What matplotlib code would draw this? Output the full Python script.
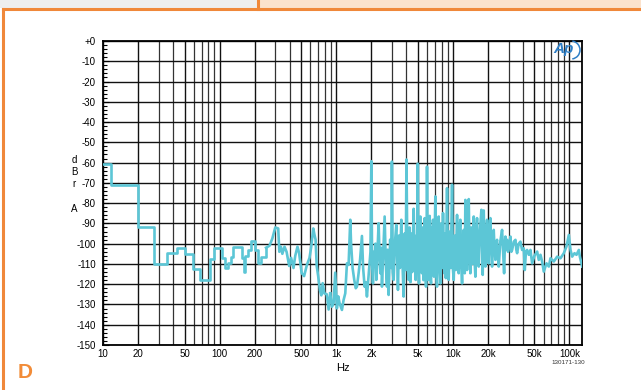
import matplotlib
matplotlib.use("Agg")
import matplotlib.pyplot as plt
from matplotlib.patches import Rectangle, Arc
from matplotlib.ticker import FixedLocator, NullFormatter, MultipleLocator

# ---------------- data ----------------
# low-frequency stepped part (FFT bins)
freq_lo = [10, 11.8, 19.8, 27.4, 35.5, 43.4, 50.5, 59, 68, 82, 89, 105, 112, 118,
           126, 131, 155, 161, 166, 175, 185, 200, 212, 228, 250]
dbr_lo = [-60.5, -71, -92, -110, -104.5, -102, -105, -112.5, -118, -107.5, -102,
          -107, -112, -109.7, -106.7, -101.7, -107, -114, -106, -103, -98.5, -103,
          -109.7, -106.5, -102]

# mid band
freq_mid = [250, 268, 283, 300, 318, 325, 335, 345, 360, 375, 395, 410, 430, 445, 465,
            480, 505, 530, 560, 590, 610, 635, 650, 665, 680, 700, 725, 745, 765, 790,
            830, 860, 888]
dbr_mid = [-102, -101, -97.5, -92, -92.5, -104, -101.5, -105, -101.5, -104, -111, -107,
           -112, -106, -101.5, -104.5, -114.5, -116, -110.5, -107, -101.5, -92.5, -95.5,
           -98, -111, -116, -123, -125.5, -119.5, -124.5, -125, -132.5, -124.5]

# high band (harmonics / noise), 888 Hz .. 1.6 kHz
freq_hi1 = [888, 918, 949, 980, 1013, 1040, 1068, 1119, 1156, 1195, 1235, 1276, 1319,
            1340, 1381, 1427, 1470, 1504, 1555, 1600, 1661, 1700, 1751, 1790, 1833,
            1880, 1920, 1965]
dbr_hi1 = [-124.5, -131.1, -129.4, -114.3, -131.9, -126, -129.4, -132.7, -127.8, -124.5,
           -109.7, -110.5, -88.2, -100, -112, -117.9, -122, -121.2, -114.6, -108, -96.2,
           -112, -121.2, -119, -126.1, -118, -111.3, -104]

# 2 kHz .. 6 kHz
freq_hi2 = [2000, 2030, 2064, 2100, 2133, 2170, 2205, 2250, 2309, 2350, 2386, 2430, 2466,
            2530, 2600, 2660, 2722, 2760, 2813, 2900, 2960, 3000, 3050, 3105, 3180, 3273,
            3330, 3382, 3450, 3520, 3613, 3700, 3784, 3860, 3940, 4000, 4080, 4178, 4250,
            4330, 4400, 4480, 4611, 4700, 4797, 4870, 4940, 5000, 5060, 5124, 5190, 5260,
            5340, 5437, 5520, 5600, 5731, 5800, 5885, 5950]
dbr_hi2 = [-59.3, -110, -119.6, -104, -111.3, -100, -117.9, -106, -89.9, -106, -114.6,
           -102, -121.2, -105, -86.6, -110, -121.2, -103, -125.3, -98, -112, -59.5, -114,
           -117.9, -100, -90.7, -108, -122.8, -96, -112, -88.2, -110, -126.1, -95, -113,
           -58.5, -110, -117.9, -92, -119, -95, -114, -82.8, -108, -117.9, -96, -111,
           -60.5, -112, -119.6, -98, -86.6, -112, -114.6, -92, -118, -87.4, -108, -121.2,
           -100]

# 6 kHz .. 20 kHz
freq_hi3 = [6000, 6080, 6162, 6240, 6327, 6410, 6495, 6600, 6680, 6757, 6820, 6892, 6980,
            7076, 7200, 7313, 7430, 7558, 7680, 7810, 7980, 8100, 8234, 8340, 8454, 8600,
            8700, 8912, 9050, 9211, 9400, 9600, 9838, 10000, 10170, 10400, 10600, 10860,
            11050, 11220, 11400, 11600, 11800, 11990, 12200, 12390, 12520, 12640, 12800,
            13000, 13230, 13450, 13680, 13900, 14130, 14400, 14700, 15100, 15350, 15600,
            15850, 16120, 16400, 16670, 17100, 17560, 17800, 18030, 18200, 18390, 18700,
            19010, 19300, 19650, 19950]
dbr_hi3 = [-62, -110, -117.9, -95, -86.3, -116, -119.6, -92, -112, -88.2, -106, -116.3,
           -98, -76.7, -113, -121.2, -96, -86.6, -110, -119.6, -90, -112, -84.9, -104,
           -114.6, -95, -117, -72.6, -104, -117.9, -94, -112, -70.9, -112, -117.9, -96,
           -113, -85.8, -108, -114.6, -93, -88.2, -110, -119.6, -100, -93.2, -110, -114.6,
           -78.4, -104, -113, -96, -78, -106, -114.6, -92, -110, -86.6, -108, -116.3, -95,
           -87.4, -104, -111.3, -93, -83.3, -100, -115.4, -96, -83.6, -105, -111.3, -96,
           -88.2, -103]

# 20 kHz .. 128 kHz
freq_hi4 = [20300, 20600, 20980, 21300, 21690, 22000, 22410, 22800, 23160, 23500, 23930,
            24300, 24740, 25500, 26420, 27000, 27500, 27900, 28220, 28700, 29170, 29700,
            30150, 31160, 31700, 32200, 33300, 34400, 35000, 35550, 36700, 37960, 39230,
            40550, 41360, 42300, 43300, 44770, 46270, 47800, 50000, 52800, 54500, 56400,
            58300, 60200, 63500, 66500, 68700, 73400, 78400, 83700, 89400, 94200, 98700,
            102000, 105400, 110400, 114800, 120300, 122700, 128500]
dbr_hi4 = [-109.7, -94, -87.4, -100, -111.3, -99, -93.2, -104, -108, -100, -98.1, -106,
           -111.3, -99, -93.2, -104.7, -114.6, -101, -96.5, -103, -98.1, -104, -101.4,
           -96.5, -104, -103.1, -99, -98.1, -103, -104.7, -100, -99, -103.1, -102.3, -113,
           -104, -103.1, -105.5, -103.1, -109.7, -106, -103.9, -108, -105.5, -109, -113.8,
           -109.7, -111.3, -107.2, -108.8, -106.4, -107.2, -104.7, -101.4, -95.7, -103.1,
           -106.4, -104.7, -105.5, -103.1, -106.4, -111.3]

x_ticks = [10, 20, 50, 100, 200, 500, 1000, 2000, 5000, 10000, 20000, 50000, 100000]
x_labels = ["10", "20", "50", "100", "200", "500", "1k", "2k", "5k", "10k", "20k", "50k", "100k"]
y_ticks = list(range(0, -151, -10))
y_labels = ["+0"] + [str(v) for v in y_ticks[1:]]

# ---------------- figure ----------------
plt.rcParams['font.family'] = ['Liberation Sans', 'DejaVu Sans']
W, H = 641, 390
fig = plt.figure(figsize=(W / 100, H / 100), dpi=100)
fig.patch.set_facecolor('white')

orange = '#f0883a'
# page decorations
fig.add_artist(Rectangle((0, 1 - 8 / H), 258 / W, 8 / H, transform=fig.transFigure,
                         facecolor='#eeeeee', edgecolor='none', zorder=0))
fig.add_artist(Rectangle((258 / W, 1 - 8 / H), 1 - 258 / W, 8 / H, transform=fig.transFigure,
                         facecolor='#fbe2cc', edgecolor='none', zorder=0))
fig.add_artist(plt.Line2D([3 / W, 1], [1 - 9 / H, 1 - 9 / H], transform=fig.transFigure,
                          color=orange, lw=2.2))
fig.add_artist(plt.Line2D([3 / W, 3 / W], [0, 1 - 9 / H], transform=fig.transFigure,
                          color=orange, lw=2.2))
fig.add_artist(plt.Line2D([258 / W, 258 / W], [1 - 9 / H, 1], transform=fig.transFigure,
                          color=orange, lw=2.2))
fig.text(18 / W, 1 - 372 / H, "D", color='#f28c38', fontsize=15, fontweight='bold',
         ha='left', va='center')

ax = fig.add_axes([103 / W, 1 - 345 / H, (582 - 103) / W, (345 - 41) / H])
ax.set_xscale('log')
ax.set_xlim(10, 128000)
ax.set_ylim(-150, 0)

line_col = '#5cc6d6'
lw = 1.9
ax.step(freq_lo, dbr_lo, where='post', color=line_col, lw=lw, zorder=3)
ax.plot(freq_mid, dbr_mid, color=line_col, lw=lw, zorder=3)
ax.plot(freq_hi1 + freq_hi2 + freq_hi3 + freq_hi4,
        dbr_hi1 + dbr_hi2 + dbr_hi3 + dbr_hi4, color=line_col, lw=lw, zorder=3)

ax.set_xticks(x_ticks)
ax.set_xticklabels(x_labels, fontsize=7)
ax.xaxis.set_minor_formatter(NullFormatter())
minors = [m * 10 ** d for d in range(1, 6) for m in range(1, 10)]
ax.xaxis.set_minor_locator(FixedLocator([v for v in minors if 10 <= v <= 128000]))
ax.set_yticks(y_ticks)
ax.set_yticklabels(y_labels, fontsize=7)
ax.yaxis.set_minor_locator(MultipleLocator(2))

ax.tick_params(axis='x', which='both', length=0, pad=3)
ax.tick_params(axis='y', which='major', direction='in', length=4, width=0.8, pad=5)
ax.tick_params(axis='y', which='minor', direction='in', length=3, width=0.8)

ax.grid(which='major', axis='both', color='#111111', lw=1.0)
ax.grid(which='minor', axis='x', color='#333333', lw=0.9)
ax.set_axisbelow(True)
for s in ax.spines.values():
    s.set_color('black')
    s.set_linewidth(1.3)

ax.set_xlabel("Hz", fontsize=8, labelpad=3)
for ch, yy in [("d", 160), ("B", 172), ("r", 184), ("A", 209)]:
    fig.text(74 / W, 1 - yy / H, ch, fontsize=7, ha='center', va='center')
fig.text(568 / W, 1 - 363 / H, "130171-130", fontsize=4.5, ha='center', va='center',
         color='#333333')

# AP logo
ax.text(0.983, 0.997, "Ap", transform=ax.transAxes, color='#2f7fc6', fontsize=11,
        fontstyle='italic', fontweight='bold', ha='right', va='top', zorder=5)
fig.add_artist(Arc((571 / W, 1 - 50 / H), 18 / W, 18 / H, theta1=-85, theta2=85,
                   transform=fig.transFigure, color='#2f7fc6', lw=1.1))

fig.savefig("out.png", dpi=100)
